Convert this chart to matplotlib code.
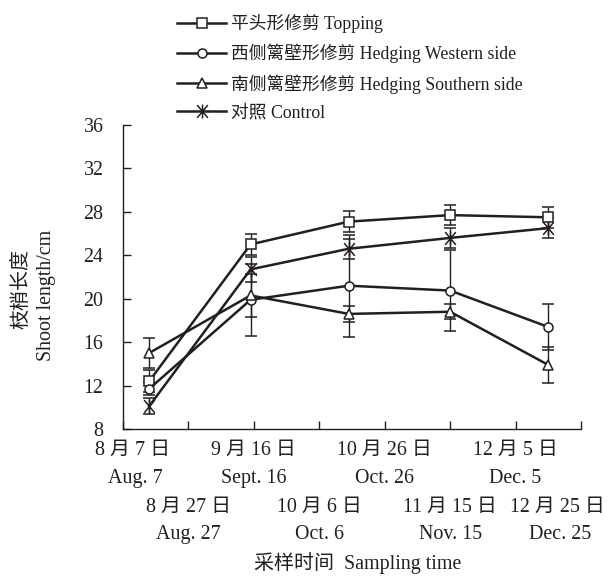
import matplotlib
matplotlib.use("Agg")
import matplotlib.pyplot as plt
import pandas as pd
import numpy as np
from matplotlib.path import Path

plt.rcParams['font.family'] = ['Liberation Serif', 'Noto Sans CJK SC', 'DejaVu Sans']

# ---- data ----
sample_dates = ['2019-08-15', '2019-09-15', '2019-10-15', '2019-11-15', '2019-12-15']
series_names = ['平头形修剪 Topping', '西侧篱壁形修剪 Hedging Western side',
                '南侧篱壁形修剪 Hedging Southern side', '对照 Control']
topping = [12.4, 25.0, 27.1, 27.7, 27.5]
topping_err = [1.0, 1.0, 0.95, 0.95, 0.95]
western = [11.7, 19.9, 21.2, 20.75, 17.4]
western_err = [0.6, 3.3, 4.7, 3.7, 2.15]
southern = [15.0, 20.3, 18.6, 18.8, 13.9]
southern_err = [1.35, 2.0, 0.75, 0.7, 1.65]
control = [10.1, 22.7, 24.6, 25.6, 26.5]
control_err = [0.75, 1.15, 0.9, 0.9, 0.95]

tick_dates = ['2019-08-07', '2019-08-27', '2019-09-16', '2019-10-06',
              '2019-10-26', '2019-11-15', '2019-12-05', '2019-12-25']
tick_labels_cn = ['8 月 7 日', '8 月 27 日', '9 月 16 日', '10 月 6 日',
                  '10 月 26 日', '11 月 15 日', '12 月 5 日', '12 月 25 日']
tick_labels_en = ['Aug. 7', 'Aug. 27', 'Sept. 16', 'Oct. 6',
                  'Oct. 26', 'Nov. 15', 'Dec. 5', 'Dec. 25']
y_ticks = [8, 12, 16, 20, 24, 28, 32, 36]

# ---- figure ----
ink = '#231f20'
fs = 14.4
fs_leg = 12.8
fig = plt.figure(figsize=(6.12, 5.77), dpi=100)
ax = fig.add_axes([123/612, 1-429/577, (581-123)/612, (429-125)/577])

origin = pd.Timestamp(tick_dates[0])
xd = [(pd.Timestamp(d) - origin).days for d in sample_dates]
xt = [(pd.Timestamp(d) - origin).days for d in tick_dates]

star = Path([(-1, -1.2), (1, 1.2), (-1, 1.2), (1, -1.2), (0, -1.3), (0, 1.3)],
            [Path.MOVETO, Path.LINETO, Path.MOVETO, Path.LINETO, Path.MOVETO, Path.LINETO])

specs = [
    (topping, topping_err, 's', 6.5),
    (western, western_err, 'o', 6.5),
    (southern, southern_err, '^', 6.5),
    (control, control_err, star, 10),
]
handles = []
for (vals, errs, mk, ms), name in zip(specs, series_names):
    eb = ax.errorbar(xd, vals, yerr=errs, color=ink, lw=1.8, marker=mk, ms=ms,
                     mfc='white', mec=ink, mew=1.1, ecolor=ink, elinewidth=1.0,
                     capsize=4.3, capthick=1.0, label=name, zorder=3)
    handles.append(eb.lines[0])

ax.set_xlim(xt[0], xt[-1])
ax.set_ylim(8, 36)
ax.set_yticks(y_ticks)
ax.set_yticklabels([str(v) for v in y_ticks], fontsize=fs)
ax.set_xticks(xt)
ax.set_xticklabels([])
ax.tick_params(axis='x', direction='in', length=6, width=1.0, color=ink)
ax.tick_params(axis='y', direction='in', length=6, width=1.0, color=ink,
               labelcolor=ink, pad=14)
for s in ['top', 'right']:
    ax.spines[s].set_visible(False)
for s in ['left', 'bottom']:
    ax.spines[s].set_color(ink)
    ax.spines[s].set_linewidth(1.0)

# two-row date labels (offsets in points below the x axis)
row_cn = [-15.1, -56.2]
row_en = [-35.3, -76.3]
for i, (x, cn, en) in enumerate(zip(xt, tick_labels_cn, tick_labels_en)):
    row = i % 2
    if i == 0:
        dx_cn, dx_en = 7, 9
    elif i == len(xt) - 1:
        dx_cn, dx_en = -17, -15
    else:
        dx_cn, dx_en = 0, 0
    ax.annotate(cn, xy=(x, 0), xycoords=('data', 'axes fraction'),
                xytext=(dx_cn, row_cn[row]), textcoords='offset points',
                ha='center', va='center', fontsize=fs, color=ink)
    ax.annotate(en, xy=(x, 0), xycoords=('data', 'axes fraction'),
                xytext=(dx_en, row_en[row]), textcoords='offset points',
                ha='center', va='center', fontsize=fs, color=ink)

fig.text(358/612, 1-563/577, '采样时间  Sampling time', ha='center', va='center',
         fontsize=fs, color=ink)
fig.text(22/612, 1-289/577, '枝梢长度', rotation=90, ha='center', va='center',
         fontsize=fs, color=ink)
fig.text(46/612, 1-295/577, 'Shoot length/cm', rotation=90, ha='center', va='center',
         fontsize=fs, color=ink)

fig.legend(handles=handles, labels=series_names, loc='upper left',
           bbox_to_anchor=(172/612, 1-9/577), frameon=False, fontsize=fs_leg,
           handlelength=2.75, handletextpad=0.25, labelspacing=0.6,
           borderaxespad=0, borderpad=0.3, labelcolor=ink)

fig.savefig('out.png', dpi=100)
